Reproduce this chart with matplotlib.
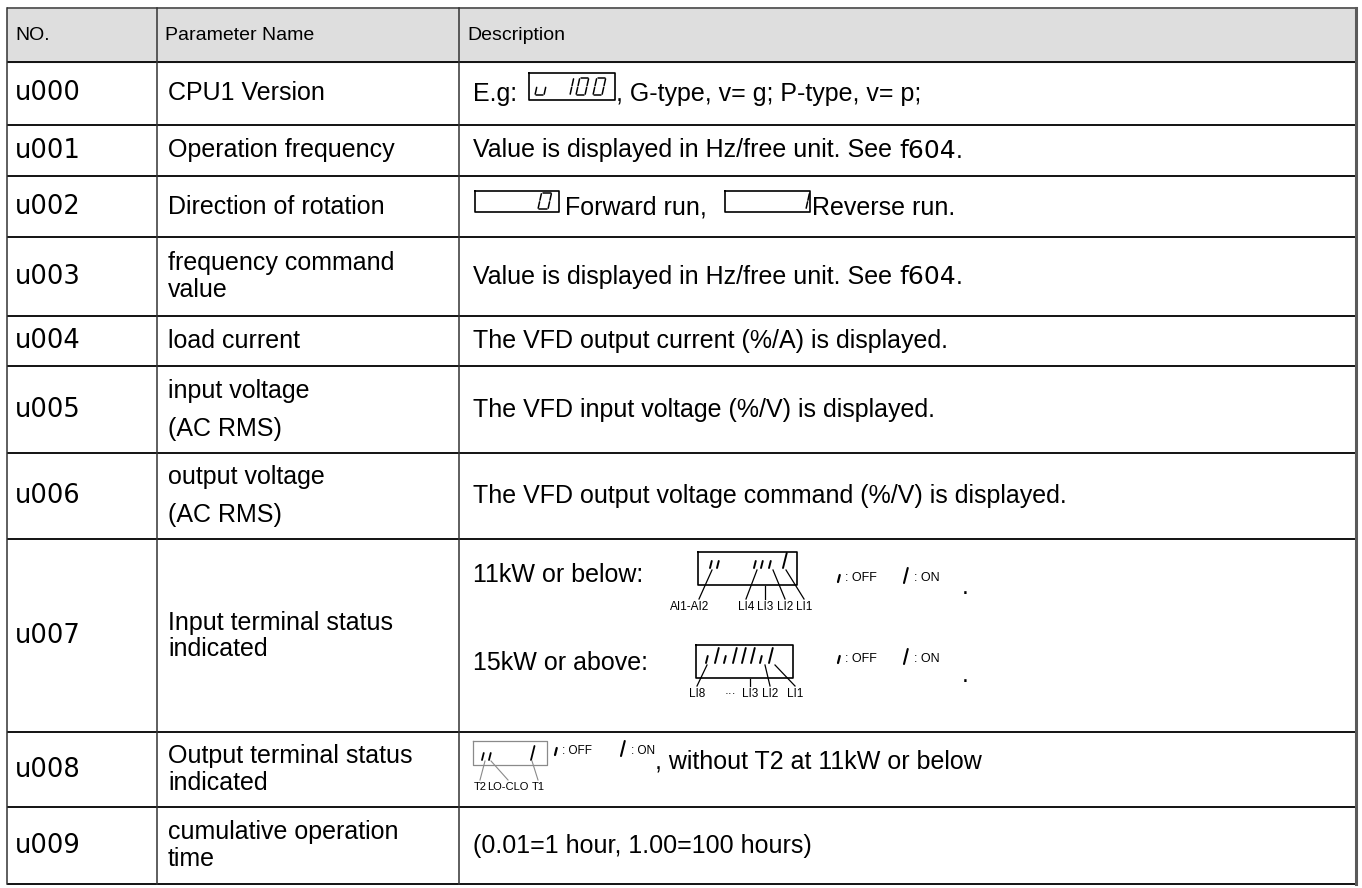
import matplotlib.pyplot as plt
from matplotlib import font_manager

# table content
headers = ["NO.", "Parameter Name", "Description"]
codes = ["u000", "u001", "u002", "u003", "u004", "u005", "u006", "u007", "u008", "u009"]
names = [["CPU1 Version"], ["Operation frequency"], ["Direction of rotation"],
         ["frequency command", "value"], ["load current"],
         ["input voltage", "(AC RMS)"], ["output voltage", "(AC RMS)"],
         ["Input terminal status", "indicated"], ["Output terminal status", "indicated"],
         ["cumulative operation", "time"]]
name_gap = [0, 0, 0, 27, 0, 38, 38, 26, 27, 27]
hz_text = "Value is displayed in Hz/free unit. See "
plain_desc = {4: "The VFD output current (%/A) is displayed.",
              5: "The VFD input voltage (%/V) is displayed.",
              6: "The VFD output voltage command (%/V) is displayed.",
              9: "(0.01=1 hour, 1.00=100 hours)"}
row_lines = [8, 62, 125, 176, 237, 316, 366, 453, 539, 732, 807, 884]
col_lines = [7, 157, 459, 1356]
in_labels_small = ["AI1-AI2", "LI4", "LI3", "LI2", "LI1"]
in_labels_big = ["LI8", "···", "LI3", "LI2", "LI1"]
out_labels = ["T2", "LO-CLO", "T1"]

FONT = "Liberation Sans"
FS = 18
try:
    font_manager.findfont("Liberation Sans Narrow", fallback_to_default=False)
    HEAD_FONT, HEAD_FS = "Liberation Sans Narrow", 17
except Exception:
    HEAD_FONT, HEAD_FS = FONT, 14

fig = plt.figure(figsize=(13.62, 8.88), dpi=100)
ax = fig.add_axes([0, 0, 1, 1])
ax.set_xlim(0, 1362)
ax.set_ylim(888, 0)
ax.axis("off")
renderer = fig.canvas.get_renderer()

# header background
ax.fill_between([col_lines[0], col_lines[-1]], row_lines[0], row_lines[1], color="#dedede", zorder=0)

# grid
for i, y in enumerate(row_lines):
    c = "#555555" if i == 0 else "black"
    ax.plot([col_lines[0], col_lines[-1]], [y, y], color=c, lw=1.3, solid_capstyle="butt")
for i, x in enumerate(col_lines):
    last = i == len(col_lines) - 1
    ax.plot([x, x], [row_lines[0], row_lines[-1]], color="#5a5a5a" if last else "#333333",
            lw=2.2 if last else 1.1)


def put(x, y, s, family=FONT, size=FS, **kw):
    return ax.text(x, y, s, family=family, fontsize=size, va="center", ha="left", **kw)


def run(x, y, parts):
    # text pieces one after another
    for s, fam in parts:
        t = put(x, y, s, family=fam)
        x += t.get_window_extent(renderer).width
    return x


SEG = {"a": ((0, 1), (1, 1)), "b": ((1, 1), (1, 0.5)), "c": ((1, 0.5), (1, 0)),
       "d": ((0, 0), (1, 0)), "e": ((0, 0.5), (0, 0)), "f": ((0, 1), (0, 0.5)),
       "g": ((0, 0.5), (1, 0.5))}
CHARS = {"0": "abcdef", "1": "bc", "u": "cde", "i": "c"}


def seg(x, ybot, ch, w, h, lw=1.3, col="black", slant=0.22, gap=0.1):
    for s in CHARS[ch]:
        (u0, v0), (u1, v1) = SEG[s]
        du, dv = (u1 - u0) * gap, (v1 - v0) * gap
        pts = [(u0 + du, v0 + dv), (u1 - du, v1 - dv)]
        xs = [x + u * w + slant * v * h for u, v in pts]
        ys = [ybot - v * h for u, v in pts]
        ax.plot(xs, ys, color=col, lw=lw, solid_capstyle="round")


def stroke(x, ybot, h, lw=1.4, col="black"):
    ax.plot([x, x + 0.25 * h], [ybot, ybot - h], color=col, lw=lw, solid_capstyle="round")


def box(x0, y0, x1, y1, col="black", lw=1.2):
    ax.plot([x0, x1, x1, x0, x0], [y0, y0, y1, y1, y0], color=col, lw=lw)


# header text
hy = (row_lines[0] + row_lines[1]) / 2
for x, h in zip(col_lines[:-1], headers):
    put(x + 8, hy, h, family=HEAD_FONT, size=HEAD_FS)


def cyr(i):
    return (row_lines[i + 1] + row_lines[i + 2]) / 2


# columns 1 and 2
for i, code in enumerate(codes):
    cy = cyr(i)
    put(col_lines[0] + 8, cy, code, family="DejaVu Sans", size=18.5)
    if len(names[i]) == 1:
        put(col_lines[1] + 11, cy, names[i][0])
    else:
        g = name_gap[i] / 2
        put(col_lines[1] + 11, cy - g, names[i][0])
        put(col_lines[1] + 11, cy + g, names[i][1])

dx = col_lines[2] + 14

# u000
y = cyr(0)
put(dx, y, "E.g:")
box(529, 73, 615, 100)
seg(535, 95, "u", 9, 17, lw=1.1)
seg(561, 95, "1", 9, 17, lw=1.1)
seg(576, 95, "0", 9, 17, lw=1.1)
seg(593, 95, "0", 9, 17, lw=1.1)
put(616, y, ", G-type, v= g; P-type, v= p;")

# u001 / u003
for i in (1, 3):
    run(dx, cyr(i), [(hz_text, FONT), ("f604", "DejaVu Sans"), (".", FONT)])

# u002
y = cyr(2)
box(475, 191, 559, 212)
seg(538, 209, "0", 10, 16, lw=1.1)
put(565, y + 1, "Forward run,")
box(725, 191, 810, 212)
seg(797, 209, "1", 9, 16, lw=1.1)
put(812, y + 1, "Reverse run.")

for i, s in plain_desc.items():
    put(dx, cyr(i), s)


def legend(x, y, size=9):
    stroke(x, y + 4, 7, lw=1.6)
    ax.text(x + 7, y, ": OFF", family=FONT, fontsize=size, va="center")
    stroke(x + 66, y + 5, 15, lw=1.5)
    ax.text(x + 76, y, ": ON", family=FONT, fontsize=size, va="center")


# u007, 11kW line
y1 = 575
put(dx, y1, "11kW or below:")
box(698, 552, 797, 585)
for cx in [710, 717, 754, 761, 769]:
    stroke(cx, 568, 7)
stroke(783, 568, 15)
lab_x = [690, 746, 765, 785, 804]
tips = [(712, 570), (757, 570), (765, 586), (773, 570), (786, 570)]
for lx, s, (tx, ty) in zip(lab_x, in_labels_small, tips):
    ax.text(lx, 607, s, family=FONT, fontsize=8.5, ha="center", va="center")
    ax.plot([lx if s != "AI1-AI2" else 699, tx], [599, ty], color="black", lw=0.9)
legend(838, 578)
put(962, y1 + 12, ".")

# u007, 15kW line
y2 = 663
put(dx, y2, "15kW or above:")
box(696, 645, 793, 678)
pattern = [0, 1, 0, 1, 1, 1, 0, 1]
for k, on in enumerate(pattern):
    stroke(706 + k * 9, 663, 15 if on else 7)
lab_x = [697, 730, 750, 770, 795]
tips = [(707, 665), None, (750, 679), (765, 665), (775, 665)]
for lx, s, tp in zip(lab_x, in_labels_big, tips):
    ax.text(lx, 694, s, family=FONT, fontsize=8.5, ha="center", va="center")
    if tp:
        ax.plot([lx, tp[0]], [686, tp[1]], color="black", lw=0.9)
legend(838, 659)
put(962, y2 + 12, ".")

# u008
y = cyr(8)
box(473, 741, 547, 765, col="#8a8a8a", lw=0.9)
stroke(482, 760, 7, lw=1.3)
stroke(489, 760, 7, lw=1.3)
stroke(531, 760, 14, lw=1.3)
ox = [480, 508, 538]
tips = [(485, 761), (491, 761), (532, 761)]
for lx, s, (tx, ty) in zip(ox, out_labels, tips):
    ax.text(lx, 787, s, family=FONT, fontsize=8, ha="center", va="center")
    ax.plot([lx, tx], [780, ty], color="#8a8a8a", lw=0.8)
legend(555, 751, size=8.5)
put(655, y - 8, ", without T2 at 11kW or below")

fig.savefig("out.png", dpi=100)
